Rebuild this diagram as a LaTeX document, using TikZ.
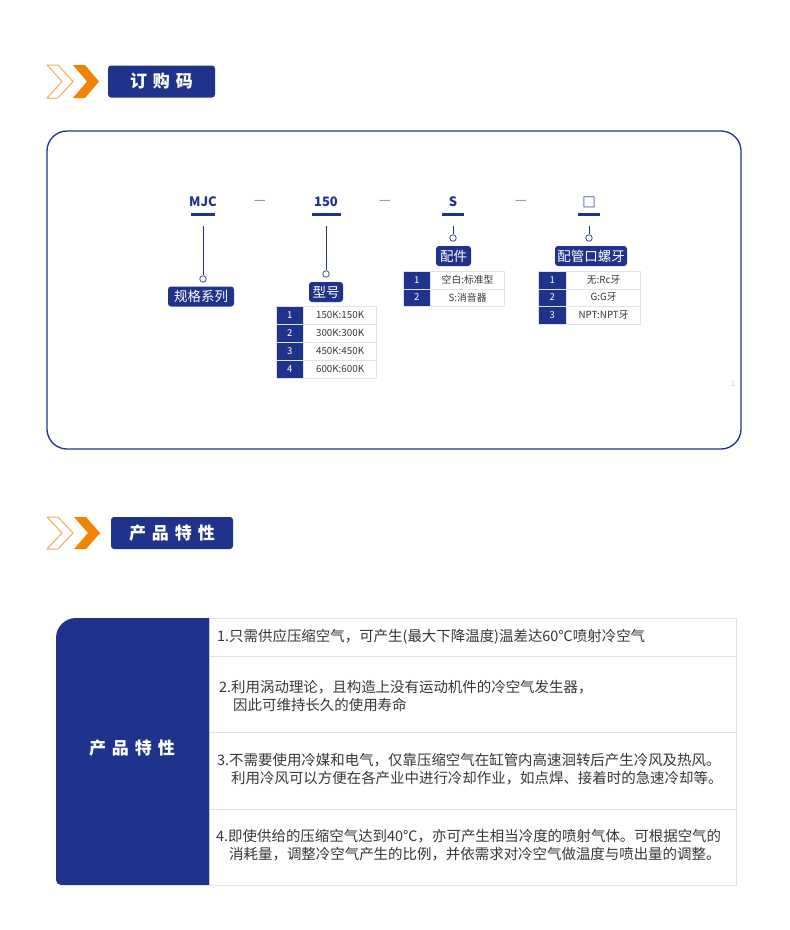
\documentclass[tikz,border=0pt]{standalone}
\usepackage{fontspec}
\setmainfont{Noto Sans CJK SC}
\definecolor{mainblue}{RGB}{31,51,140}
\definecolor{orng}{RGB}{240,131,0}
\definecolor{lorng}{RGB}{246,170,85}
\definecolor{txt}{RGB}{55,55,55}
\definecolor{gridc}{RGB}{226,226,226}
\definecolor{dashc}{RGB}{105,120,178}
\begin{document}
\begin{tikzpicture}[x=1pt,y=-1pt,
  hdr/.style={fill=mainblue, rounded corners=3pt, text=white, inner sep=0pt, minimum height=32pt, font=\bfseries\fontsize{17}{20}\selectfont},
  codetxt/.style={text=mainblue, font=\bfseries\fontsize{13}{15}\selectfont, inner sep=0pt},
  bar/.style={fill=mainblue, inner sep=0pt, minimum height=3pt},
  dashtxt/.style={text=dashc, font=\fontsize{13}{15}\selectfont, inner sep=0pt},
  vline/.style={draw=mainblue, line width=1pt},
  dot/.style={circle, draw=mainblue!80, fill=white, line width=0.9pt, minimum size=6.5pt, inner sep=0pt},
  lbl/.style={fill=mainblue, rounded corners=3pt, text=white, inner sep=0pt, minimum height=20pt, font=\fontsize{13.5}{15}\selectfont},
  numcell/.style={fill=mainblue, draw=gridc, text=white, inner sep=0pt, anchor=north west, font=\fontsize{9.5}{11}\selectfont},
  txtcell/.style={fill=white, draw=gridc, text=txt, inner sep=0pt, anchor=north west, font=\fontsize{9.8}{11}\selectfont},
  rowcell/.style={draw=gridc, fill=white, inner sep=0pt, anchor=north west, minimum width=527pt},
  rowtxt/.style={text=txt, anchor=west, inner sep=0pt, font=\fontsize{14.45}{17}\selectfont}
]
\useasboundingbox (0,0) rectangle (790,930);
\fill[white] (0,0) rectangle (790,930);

% ---------- header 1 ----------
\draw[lorng, line width=1pt, line join=round] (47,65) -- (58,65) -- (73,81.5) -- (58,98) -- (47,98) -- (62,81.5) -- cycle;
\fill[orng] (73,65) -- (85,65) -- (99,81.5) -- (85,98) -- (73,98) -- (87,81.5) -- cycle;
\node[hdr, minimum width=107pt] (h1) at (161.5,81.5) {订\hspace{6pt}购\hspace{6pt}码};

% ---------- order code box ----------
\draw[mainblue, line width=1.3pt, rounded corners=20pt] (47,131) rectangle (741,449);
\node[text=gray!35, font=\fontsize{8.5}{9}\selectfont, inner sep=0pt] (pg) at (733,383) {1};

% code parts
\node[codetxt] (c1) at (203,202) {MJC};
\node[codetxt] (c2) at (326,202) {150};
\node[codetxt] (c3) at (453,202) {S};
\node[codetxt, font=\bfseries\fontsize{13.5}{15}\selectfont] (c4) at (589,202) {□};
\node[dashtxt] (m1) at (260,202) {—};
\node[dashtxt] (m2) at (385,202) {—};
\node[dashtxt] (m3) at (521,202) {—};

\node[bar, minimum width=24pt] (b1) at (203,214) {};
\node[bar, minimum width=29pt] (b2) at (326,214) {};
\node[bar, minimum width=22pt] (b3) at (453,214) {};
\node[bar, minimum width=22pt] (b4) at (589,214) {};

\node[dot] (d1) at (203,279) {};
\node[dot] (d2) at (326,274) {};
\node[dot] (d3) at (453,238) {};
\node[dot] (d4) at (589,238) {};

\draw[vline] (b1.south) ++(0,10.5) -- (d1.north);
\draw[vline] (b2.south) ++(0,10.5) -- (d2.north);
\draw[vline] (b3.south) ++(0,10.5) -- (d3.north);
\draw[vline] (b4.south) ++(0,10.5) -- (d4.north);

\node[lbl, minimum width=66pt] (l1) at (201,296.5) {规格系列};
\node[lbl, minimum width=34pt] (l2) at (326,292) {型号};
\node[lbl, minimum width=35pt] (l3) at (453.5,256) {配件};
\node[lbl, minimum width=72pt] (l4) at (591,256) {配管口螺牙};

% table: 型号
\foreach \i/\t in {1/150K:150K, 2/300K:300K, 3/450K:450K, 4/600K:600K}{
  \node[numcell, minimum width=27pt, minimum height=18pt] (xn\i) at (276,{306+(\i-1)*18}) {\i};
  \node[txtcell, minimum width=73pt, minimum height=18pt] (xt\i) at (xn\i.north east) {\t};
}
% table: 配件
\foreach \i/\t in {1/空白:标准型, 2/S:消音器}{
  \node[numcell, minimum width=27pt, minimum height=17.5pt] (pn\i) at (403,{271+(\i-1)*17.5}) {\i};
  \node[txtcell, minimum width=74pt, minimum height=17.5pt] (pt\i) at (pn\i.north east) {\t};
}
% table: 配管口螺牙
\foreach \i/\t in {1/无:Rc牙, 2/G:G牙, 3/NPT:NPT牙}{
  \node[numcell, minimum width=28pt, minimum height=17.5pt] (gn\i) at (538,{271+(\i-1)*17.5}) {\i};
  \node[txtcell, minimum width=74pt, minimum height=17.5pt] (gt\i) at (gn\i.north east) {\t};
}

% ---------- header 2 ----------
\draw[lorng, line width=1pt, line join=round] (47,517) -- (58,517) -- (73,533) -- (58,549) -- (47,549) -- (62,533) -- cycle;
\fill[orng] (74,517) -- (86,517) -- (100,533) -- (86,549) -- (74,549) -- (88,533) -- cycle;
\node[hdr, minimum width=122pt] (h2) at (172,533) {产\hspace{6pt}品\hspace{6pt}特\hspace{6pt}性};

% ---------- feature table ----------
\node[rowcell, minimum height=38pt] (row1) at (209,618) {};
\node[rowcell, minimum height=76pt] (row2) at (209,656) {};
\node[rowcell, minimum height=77pt] (row3) at (209,732) {};
\node[rowcell, minimum height=76pt] (row4) at (209,809) {};
\fill[mainblue] (209,618) [rounded corners=20pt] -- (56,618) [rounded corners=5pt] -- (56,885) [sharp corners] -- (209,885) -- cycle;
\node[text=white, font=\bfseries\fontsize{17}{20}\selectfont, inner sep=0pt] (pf) at (132,748) {产\hspace{6pt}品\hspace{6pt}特\hspace{6pt}性};

\node[rowtxt] (r1) at (217,637) {1.只需供应压缩空气，可产生(最大下降温度)温差达60℃喷射冷空气};
\node[rowtxt] (r2a) at (219,687) {2.利用涡动理论，且构造上没有运动机件的冷空气发生器，};
\node[rowtxt] (r2b) at (233,705) {因此可维持长久的使用寿命};
\node[rowtxt] (r3a) at (217,760) {3.不需要使用冷媒和电气，仅靠压缩空气在缸管内高速洄转后产生冷风及热风。};
\node[rowtxt] (r3b) at (231,778) {利用冷风可以方便在各产业中进行冷却作业，如点焊、接着时的急速冷却等。};
\node[rowtxt] (r4a) at (216,836) {4.即使供给的压缩空气达到40℃，亦可产生相当冷度的喷射气体。可根据空气的};
\node[rowtxt] (r4b) at (229,854) {消耗量，调整冷空气产生的比例，并依需求对冷空气做温度与喷出量的调整。};
\end{tikzpicture}
\end{document}
